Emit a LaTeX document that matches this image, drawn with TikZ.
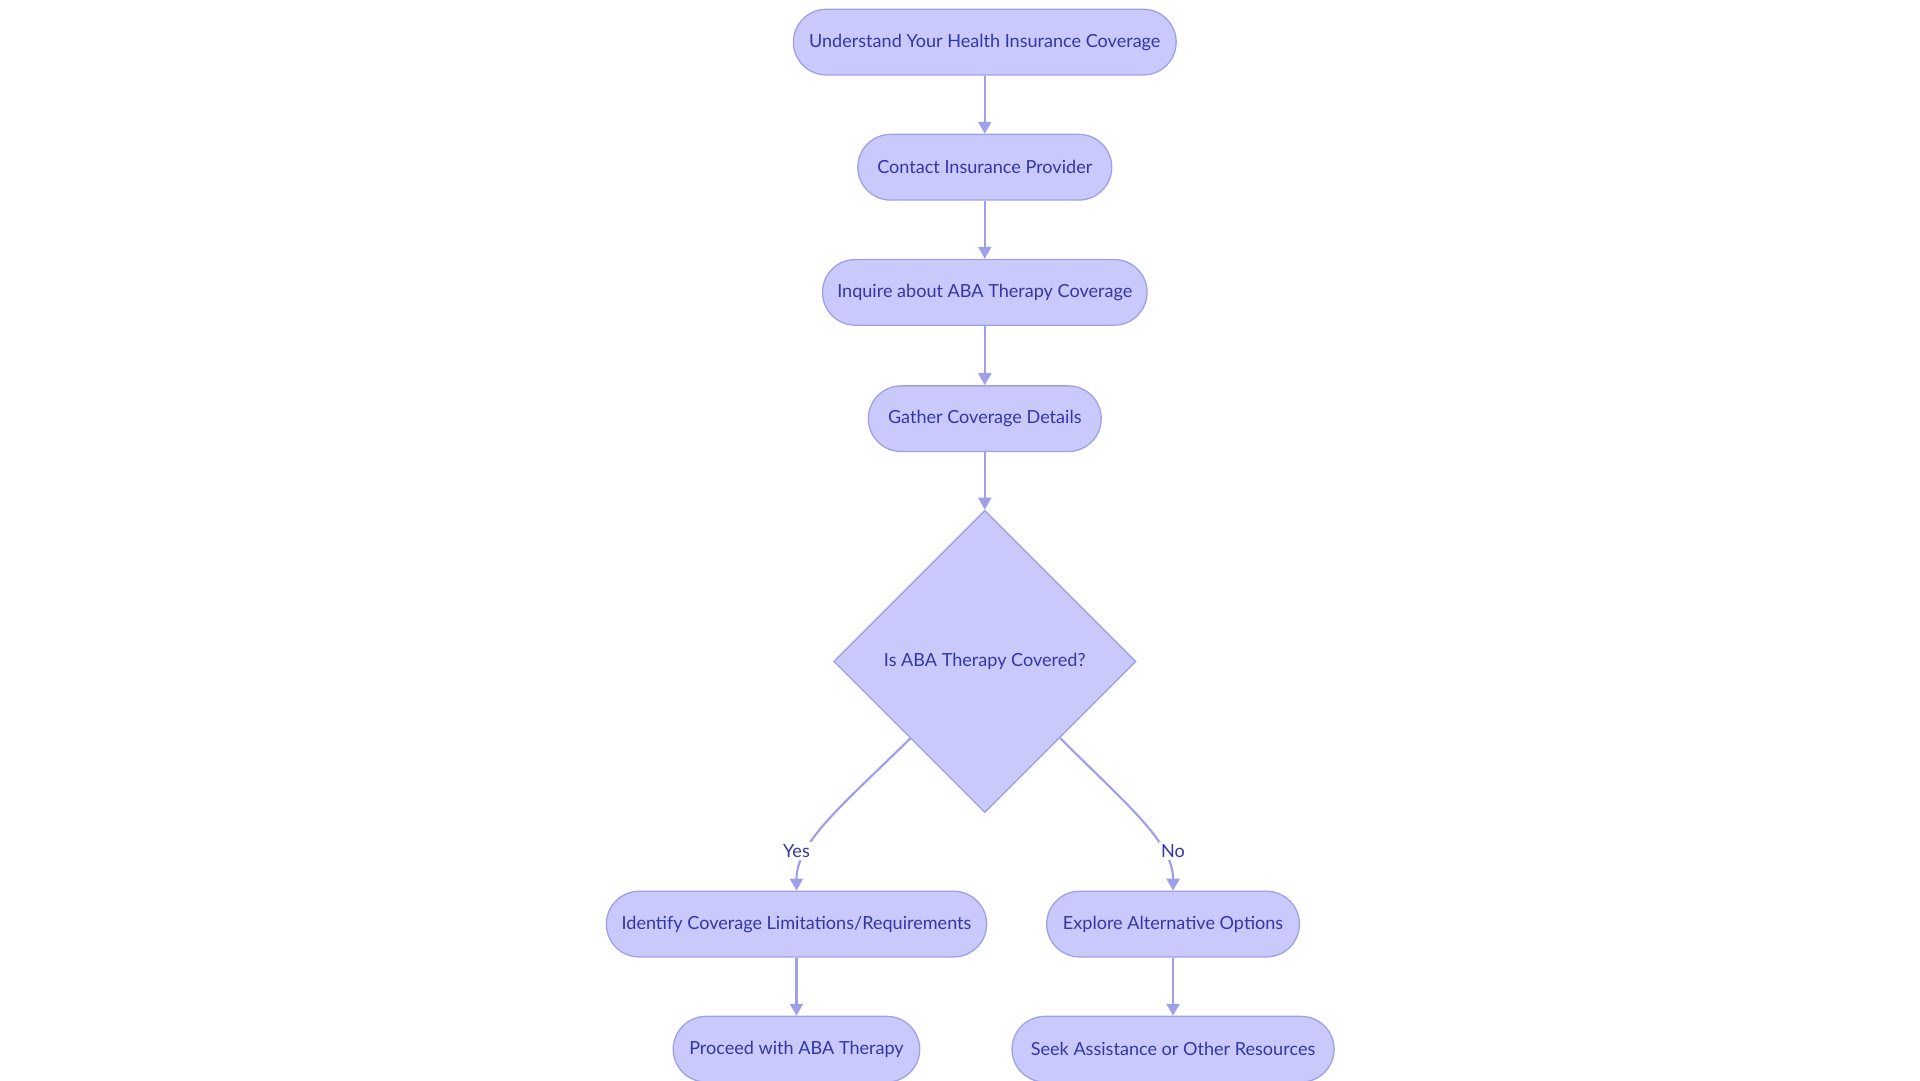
\documentclass[tikz,border=0pt]{standalone}
\usepackage{fontspec}
\setmainfont{Lato}
\usetikzlibrary{shapes.geometric,arrows.meta}
\definecolor{nfill}{HTML}{C9CAFB}
\definecolor{nline}{HTML}{9EA1EA}
\definecolor{ntext}{HTML}{3436A8}
\begin{document}
\begin{tikzpicture}[x=0.02cm,y=-0.02cm,
 box/.style={draw=nline,fill=nfill,rounded corners=26.5*0.02cm,minimum height=53*0.02cm,text=ntext,font=\fontsize{8.3}{10}\selectfont,inner sep=0,line width=0.6pt},
 arr/.style={draw=nline,line width=1pt,-{Triangle[length=5.5pt,width=6pt]}},
 lbl/.style={text=ntext,font=\fontsize{8.3}{10}\selectfont,fill=white,inner sep=1pt}]
\useasboundingbox (0,0) rectangle (1550,872);
\node[box,minimum width=309*0.02cm] (n1) at (795,34) {Understand Your Health Insurance Coverage};
\node[box,minimum width=205*0.02cm] (n2) at (795,135) {Contact Insurance Provider};
\node[box,minimum width=262*0.02cm] (n3) at (795,236) {Inquire about ABA Therapy Coverage};
\node[box,minimum width=188*0.02cm] (n4) at (795,338) {Gather Coverage Details};
\node[draw=nline,fill=nfill,diamond,minimum width=244*0.02cm,minimum height=244*0.02cm,inner sep=0,text=ntext,font=\fontsize{8.3}{10}\selectfont,line width=0.6pt] (d) at (795,534) {Is ABA Therapy Covered?};
\node[box,minimum width=307*0.02cm] (n5) at (643,746) {Identify Coverage Limitations/Requirements};
\node[box,minimum width=204*0.02cm] (n6) at (947,746) {Explore Alternative Options};
\node[box,minimum width=199*0.02cm] (n7) at (643,847) {Proceed with ABA Therapy};
\node[box,minimum width=260*0.02cm] (n8) at (947,847) {Seek Assistance or Other Resources};
\draw[arr] (n1) -- (n2);
\draw[arr] (n2) -- (n3);
\draw[arr] (n3) -- (n4);
\draw[arr] (n4) -- (d);
\coordinate (dl) at (735,596);
\coordinate (dr) at (856,596);
\draw[arr] (dl) .. controls (680,650) and (643,680) .. (n5.north);
\draw[arr] (dr) .. controls (910,650) and (947,680) .. (n6.north);
\node[lbl] (ly) at (643,687) {Yes};
\node[lbl] (ln) at (947,687) {No};
\draw[arr] (n5) -- (n7);
\draw[arr] (n6) -- (n8);
\end{tikzpicture}
\end{document}
